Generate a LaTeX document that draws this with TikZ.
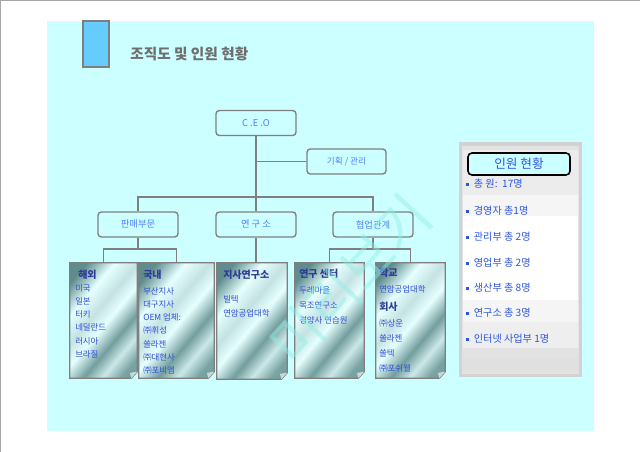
\documentclass[tikz,border=0pt]{standalone}
\usepackage{fontspec}
\setmainfont{Noto Sans CJK KR}
\definecolor{slidebg}{HTML}{CCFFFF}
\definecolor{titleblue}{HTML}{66CCFF}
\definecolor{titlegray}{HTML}{6E6E6E}
\definecolor{linegray}{HTML}{7F7F7F}
\definecolor{boxblue}{HTML}{4D7FFF}
\definecolor{noteblue}{HTML}{2F4FD8}
\definecolor{notenavy}{HTML}{2E3A99}
\definecolor{notedark}{HTML}{5F8C8C}
\definecolor{notelight}{HTML}{E6FFFF}
\definecolor{staffblue}{HTML}{2B55E0}
\definecolor{wmcyan}{HTML}{8EEFE6}
\pgfdeclarehorizontalshading{notestripe}{100bp}{color(0bp)=(notedark); color(22bp)=(notedark);
	color(34bp)=(notelight); color(44bp)=(notelight!75!notedark); color(52bp)=(notelight);
	color(62bp)=(notedark!85!notelight); color(70bp)=(notelight!80!notedark); color(78bp)=(notedark!80!notelight);
	color(100bp)=(notedark)}
\tikzset{
	orgbox/.style={draw=linegray, line width=1pt, rounded corners=2.5pt, fill=slidebg, text=boxblue,
		font=\fontsize{7}{8}\selectfont, minimum width=60pt, minimum height=18.75pt, inner sep=0pt},
	conn/.style={draw=linegray, line width=1pt},
	notebox/.style={inner sep=0pt, minimum height=86.25pt},
	notefill/.style={draw=linegray, line width=1pt, shading=notestripe, shading angle=-40},
	notehead/.style={anchor=west, inner sep=0pt, text=notenavy, font=\fontsize{7.5}{8}\selectfont\bfseries},
	noteitem/.style={anchor=west, inner sep=0pt, text=noteblue, font=\fontsize{6.3}{7}\selectfont},
	staffitem/.style={anchor=west, inner sep=0pt, text=staffblue, font=\fontsize{7.6}{8}\selectfont},
}
\begin{document}
\begin{tikzpicture}[x=0.75pt, y=-0.75pt]
	\useasboundingbox (0,0) rectangle (640,452);
	\fill[white] (0,0) rectangle (640,452);
	\draw[gray!70, line width=0.8pt] (0,452) -- (0,0) -- (640,0);
	\fill[slidebg] (47,21) rectangle (594,431);
	\draw[fill=titleblue, draw=linegray, line width=0.8pt] (83,21) rectangle (109,67);
	\node[anchor=west, inner sep=0pt, text=titlegray, font=\fontsize{11}{12}\selectfont\bfseries] (title) at (130,54) {조직도 및 인원 현황};

	\node[orgbox] (ceo) at (256,123) {C .E .O};
	\node[orgbox, minimum width=59.25pt] (plan) at (346.5,161.5) {\fontsize{6.5}{7}\selectfont 기획 / 관리};
	\node[orgbox] (sales) at (138,224.5) {판매부문};
	\node[orgbox] (rnd) at (256,224.5) {연 구 소};
	\node[orgbox] (coop) at (373,224.5) {협업관계};
	\coordinate (bus) at (256,197);
	\coordinate (sbus) at (138,249);
	\coordinate (cbus) at (373,249);

	\node[notebox, minimum width=50.25pt] (haeoe) at (103.5,320.5) {};
	\node[notebox, minimum width=56.25pt] (gungnae) at (176.5,320.5) {};
	\node[notebox, minimum width=52.5pt, minimum height=87pt] (jisa) at (252,321) {};
	\node[notebox, minimum width=51.75pt] (center) at (329.5,320.5) {};
	\node[notebox, minimum width=51.75pt] (school) at (410.5,320.5) {};

	\draw[conn] (ceo) -- (rnd);
	\draw[conn] (plan.west) -- (plan.west -| ceo.south);
	\draw[conn] (sales.north) |- (bus) -| (coop.north);
	\draw[conn] (sales.south) -- (sbus);
	\draw[conn] (haeoe.north) |- (sbus) -| (gungnae.north);
	\draw[conn] (rnd.south) -- (rnd.south |- jisa.north);
	\draw[conn] (coop.south) -- (cbus);
	\draw[conn] (center.north) |- (cbus) -| (school.north);

	\foreach \n in {haeoe,gungnae,jisa,center,school} {
		\shade[notefill] (\n.north west) -- (\n.north east) -- ([yshift=5pt]\n.south east)
			-- ([xshift=-4.5pt]\n.south east) -- (\n.south west) -- cycle;
		\fill[notelight!70!linegray] ([yshift=5pt]\n.south east) -- ([xshift=-4.5pt]\n.south east)
			-- ([xshift=-5.5pt,yshift=4pt]\n.south east) -- cycle;
	}

	\node[notehead] (haeoe-h) at (78,275) {해외};
	\foreach \t [count=\i] in {미국,일본,터키,네덜란드,러시아,브라질}
		\node[noteitem] (haeoe-\i) at (75,275+13.2*\i) {\t};
	\node[notehead] (gungnae-h) at (143,275) {국내};
	\foreach \t [count=\i] in {부산지사,대구지사,OEM 업체:,㈜휘성,쏠라젠,㈜대현사,㈜포비엠}
		\node[noteitem] (gungnae-\i) at (143,278+13.2*\i) {\t};
	\node[notehead] (jisa-h) at (223,275) {지사연구소};
	\node[noteitem] (jisa-1) at (223,299) {빌텍};
	\node[noteitem] (jisa-2) at (223,313) {연암공업대학};
	\node[notehead] (center-h) at (299,274) {연구 센터};
	\foreach \t [count=\i] in {두레마을,목조연구소,경양사 연습원}
		\node[noteitem] (center-\i) at (299,275+15*\i) {\t};
	\node[notehead] (school-h) at (379,273) {학교};
	\node[noteitem] (school-1) at (379,289) {연암공업대학};
	\node[notehead] (company-h) at (379,307) {회사};
	\foreach \t [count=\i] in {㈜상운,쏠라젠,쏠텍,㈜포쉬웰}
		\node[noteitem] (company-\i) at (379,308+15.2*\i) {\t};

	\node[text=wmcyan, text opacity=0.45, rotate=47, font=\fontsize{42}{44}\selectfont] (wm) at (350,280) {미리보기};

	\fill[gray!35] (459,142) rectangle (582,377);
	\fill[gray!22] (462,146) rectangle (579,374);
	\fill[gray!15] (463,150) rectangle (578,195);
	\fill[gray!8] (463,195) rectangle (578,216);
	\fill[white] (463,216) rectangle (578,300);
	\fill[gray!8] (463,300) rectangle (578,322);
	\fill[gray!13] (463,322) rectangle (578,348);
	\fill[gray!24] (462,358) rectangle (579,372);
	\node[draw=black, line width=1.2pt, rounded corners=3pt, fill=slidebg, minimum width=76.5pt, minimum height=16.5pt,
		inner sep=0pt, text=staffblue, font=\fontsize{9.5}{10}\selectfont] (staff) at (519,164) {인원 현황};
	\foreach \t/\y [count=\i] in {총 원:~~17명/184,경영자 총1명/211,관리부 총 2명/237,영업부 총 2명/263,
			생산부 총 8명/288,연구소 총 3명/313,인터넷 사업부 1명/339}
		\node[staffitem] (staff-\i) at (466,\y) {\raisebox{1.2pt}{\rule{2.2pt}{2.2pt}}\hspace{3.5pt}\t};
\end{tikzpicture}
\end{document}
